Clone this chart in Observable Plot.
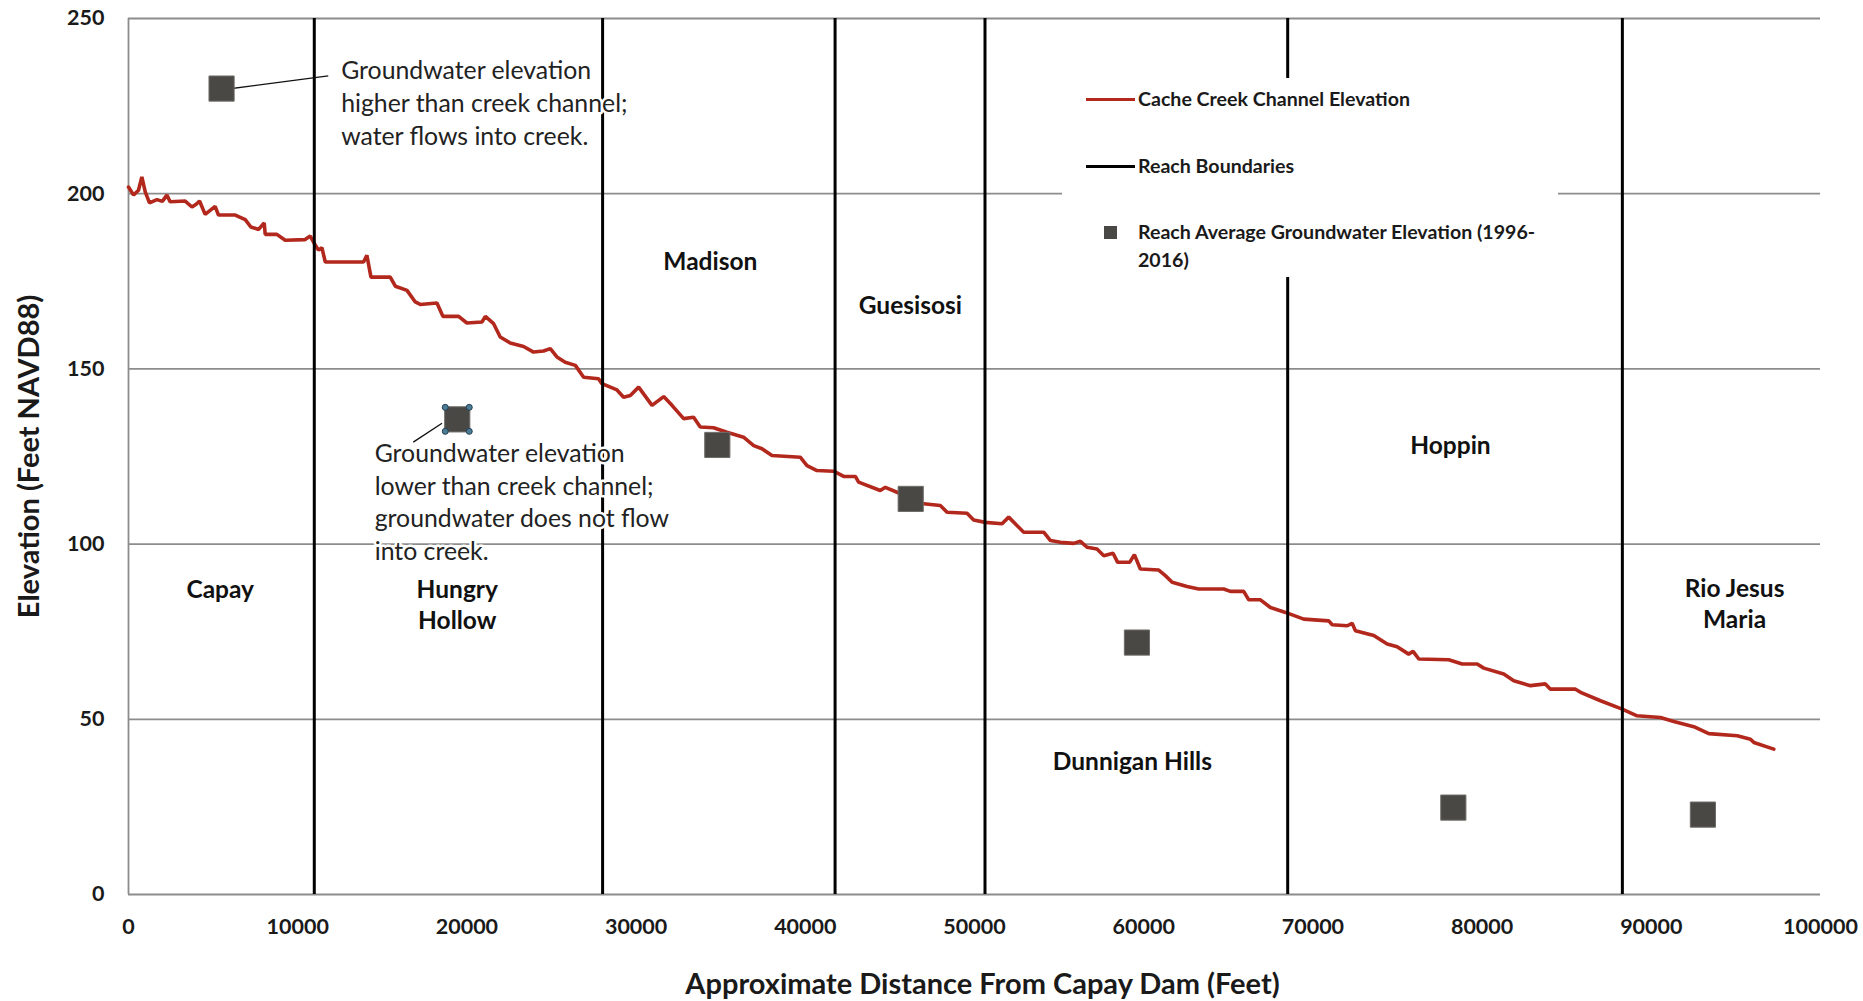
<!DOCTYPE html>
<html>
<head>
<meta charset="utf-8">
<script src="https://cdn.jsdelivr.net/npm/d3@7"></script>
<script src="https://cdn.jsdelivr.net/npm/@observablehq/plot@0.6"></script>
<style>
html, body { margin: 0; padding: 0; background: #fff; overflow: hidden; }
#wrap { position: relative; width: 1863px; height: 1001px; }
#legend { position: absolute; left: 1062px; top: 78px; width: 496px; height: 199px; background: #fff;
  font-family: Lato, "Open Sans", sans-serif; font-weight: bold; font-size: 19.6px; color: #1a1a1a; }
#legend .sw { position: absolute; }
#legend .tx { position: absolute; left: 76px; line-height: 28px; white-space: nowrap; }
</style>
</head>
<body>
<div id="wrap">
  <div id="chart"></div>
  <div id="legend"></div>
</div>
<script>
// ---- Data ----
const xTicks = [0, 10000, 20000, 30000, 40000, 50000, 60000, 70000, 80000, 90000, 100000];
const yTicks = [0, 50, 100, 150, 200, 250];

// Cache Creek channel elevation profile (distance ft, elevation ft)
const creekDist = [0, 300, 590, 790, 990, 1240, 1680, 2000, 2270, 2460, 3350, 3750, 4000, 4200, 4530, 5120, 5320, 6310, 6900, 7230, 7690, 8020, 8080, 8770, 9260, 10440, 10740, 10980, 11230, 11430, 11630, 13300, 13890, 14090, 14330, 15470, 15770, 16460, 16950, 17240, 18230, 18580, 19510, 20000, 20890, 21090, 21580, 21970, 22560, 23350, 23940, 24530, 24930, 25320, 25810, 26410, 26900, 27780, 27980, 28870, 29260, 29660, 30150, 30940, 31630, 32120, 32810, 33400, 33790, 34580, 35370, 36350, 36950, 37440, 38030, 39700, 40100, 40690, 41670, 42270, 42960, 43150, 44430, 44730, 45420, 47000, 47980, 48380, 49560, 49950, 50640, 51630, 52020, 52910, 54090, 54490, 55080, 55860, 56260, 56650, 57240, 57640, 58190, 58460, 59170, 59450, 59800, 60890, 61280, 61680, 62560, 63250, 64730, 65120, 65910, 66210, 66900, 67490, 68380, 69460, 70940, 71140, 72030, 72320, 72510, 73600, 74390, 74980, 75660, 75920, 76260, 78030, 78820, 79710, 80100, 81280, 81870, 82860, 83740, 84040, 85520, 85820, 87000, 88280, 89160, 90540, 91330, 92510, 93400, 95080, 95860, 96060, 97240];
const creekElev = [201.9, 199.6, 201, 204.8, 200.5, 197.4, 198.3, 197.8, 199.6, 197.7, 197.9, 196.2, 197, 197.9, 194.1, 196.4, 193.9, 193.9, 192.6, 190.5, 189.8, 191.7, 188.4, 188.4, 186.7, 186.9, 187.9, 185.8, 183.9, 184.6, 180.5, 180.5, 180.5, 182.4, 176.2, 176.2, 173.6, 172.4, 169.1, 168.4, 168.8, 165, 165, 163.1, 163.4, 165, 162.9, 159.1, 157.4, 156.4, 154.8, 155.1, 155.8, 153.4, 151.9, 151, 147.6, 147.2, 145.8, 144, 141.9, 142.4, 144.8, 139.6, 142.1, 139.6, 135.8, 136.2, 133.4, 133.2, 131.9, 130.5, 128.1, 127.2, 125.3, 124.8, 122.4, 121, 120.8, 119.3, 119.3, 117.7, 115.3, 116.2, 114.8, 111.5, 111, 109.1, 108.8, 106.9, 106.2, 105.8, 107.7, 103.4, 103.4, 101, 100.5, 100.2, 100.8, 99.1, 98.6, 96.7, 97.4, 94.8, 94.8, 97, 92.9, 92.6, 91, 89.1, 87.9, 87.2, 87.2, 86.5, 86.5, 84.1, 84.1, 81.9, 80.5, 78.6, 78.1, 77, 76.7, 77.4, 75.3, 73.9, 71.5, 70.7, 68.6, 69.4, 67.2, 67, 65.8, 65.8, 64.6, 62.9, 61, 59.6, 60.1, 58.6, 58.6, 57.7, 55.3, 52.9, 51, 50.5, 49.4, 47.9, 45.9, 45.3, 44.3, 43.4, 41.5];

// Reach boundaries (distance, ft)
const reachBounds = [10980, 28020, 41760, 50620, 68510, 88290];

// Reach average groundwater elevation (1996-2016)
const gwDist = [5500, 19430, 34800, 46230, 59600, 78300, 93050];
const gwElev = [230, 135.6, 128.3, 112.9, 71.9, 24.8, 22.8];

// Reach name labels (anchor in data units)
const reachNames = ["Capay", "Hungry\nHollow", "Madison", "Guesisosi", "Dunnigan Hills", "Hoppin", "Rio Jesus\nMaria"];
const reachLabelX = [5420, 19430, 34390, 46210, 59330, 78130, 94920];
const reachLabelY = [87.6, 83, 181.2, 168.6, 38.5, 128.7, 83.3];

// Callout annotations
const noteTexts = [
  "Groundwater elevation\nhigher than creek channel;\nwater flows into creek.",
  "Groundwater elevation\nlower than creek channel;\ngroundwater does not flow\ninto creek."
];
const noteX = [12570, 14550];
const noteY = [226.3, 112.4];
// leader lines: from square to text
const leaderX1 = [5430, 18530];
const leaderY1 = [229.6, 134.5];
const leaderX2 = [11805, 16830];
const leaderY2 = [233.6, 129.1];

const legendLabels = ["Cache Creek Channel Elevation", "Reach Boundaries", "Reach Average Groundwater Elevation (1996-\n2016)"];

const xTitle = "Approximate Distance From Capay Dam (Feet)";
const yTitle = "Elevation (Feet NAVD88)";

// ---- Tables ----
const creek = creekDist.map((d, i) => ({x: d, y: creekElev[i]}));
const gw = gwDist.map((d, i) => ({x: d, y: gwElev[i]}));
const reachLabels = reachNames.map((n, i) => ({text: n, x: reachLabelX[i], y: reachLabelY[i]}));
const notes = noteTexts.map((t, i) => ({text: t, x: noteX[i], y: noteY[i]}));
const leaders = leaderX1.map((d, i) => ({x1: d, y1: leaderY1[i], x2: leaderX2[i], y2: leaderY2[i]}));
const selected = [gw[1]];

const RED = "#b3281d";
const SQ = "#4a4845";
const GRID = "#8c8c8c";

const handle = (dx, dy) => Plot.dot(selected, {x: "x", y: "y", dx, dy, r: 3, fill: "#4d7d96", stroke: "#223f50", strokeWidth: 1});

const chart = Plot.plot({
  width: 1863,
  height: 1001,
  marginLeft: 128,
  marginRight: 43,
  marginTop: 18,
  marginBottom: 107,
  x: {domain: [0, 100000]},
  y: {domain: [0, 250]},
  style: {fontFamily: "Lato, 'Open Sans', sans-serif", background: "#fff", color: "#1a1a1a"},
  marks: [
    Plot.gridY(yTicks, {stroke: GRID, strokeOpacity: 1, strokeWidth: 1.8}),
    Plot.ruleX([0], {stroke: GRID, strokeWidth: 1.8}),
    Plot.line(creek, {x: "x", y: "y", stroke: RED, strokeWidth: 3.6, strokeLinejoin: "miter"}),
    Plot.ruleX(reachBounds, {y1: 0, y2: 250, stroke: "#000", strokeWidth: 3}),
    Plot.link(leaders, {x1: "x1", y1: "y1", x2: "x2", y2: "y2", stroke: "#111", strokeWidth: 1.3}),
    Plot.dot(gw, {x: "x", y: "y", symbol: "square", r: 14.2, fill: SQ, stroke: "#6e6c68", strokeWidth: 1}),
    handle(-12, -12), handle(12, -12), handle(-12, 12), handle(12, 12),
    Plot.text(notes, {x: "x", y: "y", text: "text", textAnchor: "start", fontSize: 24.8, lineHeight: 1.32,
      fill: "#222", stroke: "#fff", strokeWidth: 5}),
    Plot.text(reachLabels, {x: "x", y: "y", text: "text", fontSize: 24.5, fontWeight: "bold", lineHeight: 1.27, fill: "#111"}),
    Plot.axisX({ticks: xTicks, tickSize: 0, tickPadding: 24, fontSize: 21.5, fontWeight: "bold", tickFormat: "d", label: null}),
    Plot.axisY({ticks: yTicks, tickSize: 0, tickPadding: 24, fontSize: 21.5, fontWeight: "bold", label: null}),
    Plot.text([xTitle], {text: d => d, frameAnchor: "bottom", textAnchor: "middle", lineAnchor: "middle", dy: 90, dx: 8, fontSize: 29, fontWeight: "bold", fill: "#1a1a1a"}),
    Plot.text([yTitle], {text: d => d, frameAnchor: "left", textAnchor: "middle", lineAnchor: "middle", rotate: -90, dx: -99, fontSize: 29, fontWeight: "bold", fill: "#1a1a1a"})
  ]
});
document.getElementById("chart").appendChild(chart);

// ---- Legend (inside plot area, white box) ----
const lg = document.getElementById("legend");
const rows = [
  {type: "line", color: RED, cy: 21},
  {type: "line", color: "#000", cy: 88},
  {type: "square", color: SQ, cy: 154}
];
rows.forEach((r, i) => {
  const sw = document.createElement("div");
  sw.className = "sw";
  if (r.type === "line") {
    Object.assign(sw.style, {left: "24px", width: "49px", top: (r.cy - 1.5) + "px", height: "3px", background: r.color});
  } else {
    Object.assign(sw.style, {left: "42px", width: "13px", top: (r.cy - 6.5) + "px", height: "13px", background: r.color});
  }
  lg.appendChild(sw);
  const tx = document.createElement("div");
  tx.className = "tx";
  tx.style.top = (r.cy - 14) + "px";
  tx.innerHTML = legendLabels[i].split("\n").join("<br>");
  lg.appendChild(tx);
});
</script>
</body>
</html>
